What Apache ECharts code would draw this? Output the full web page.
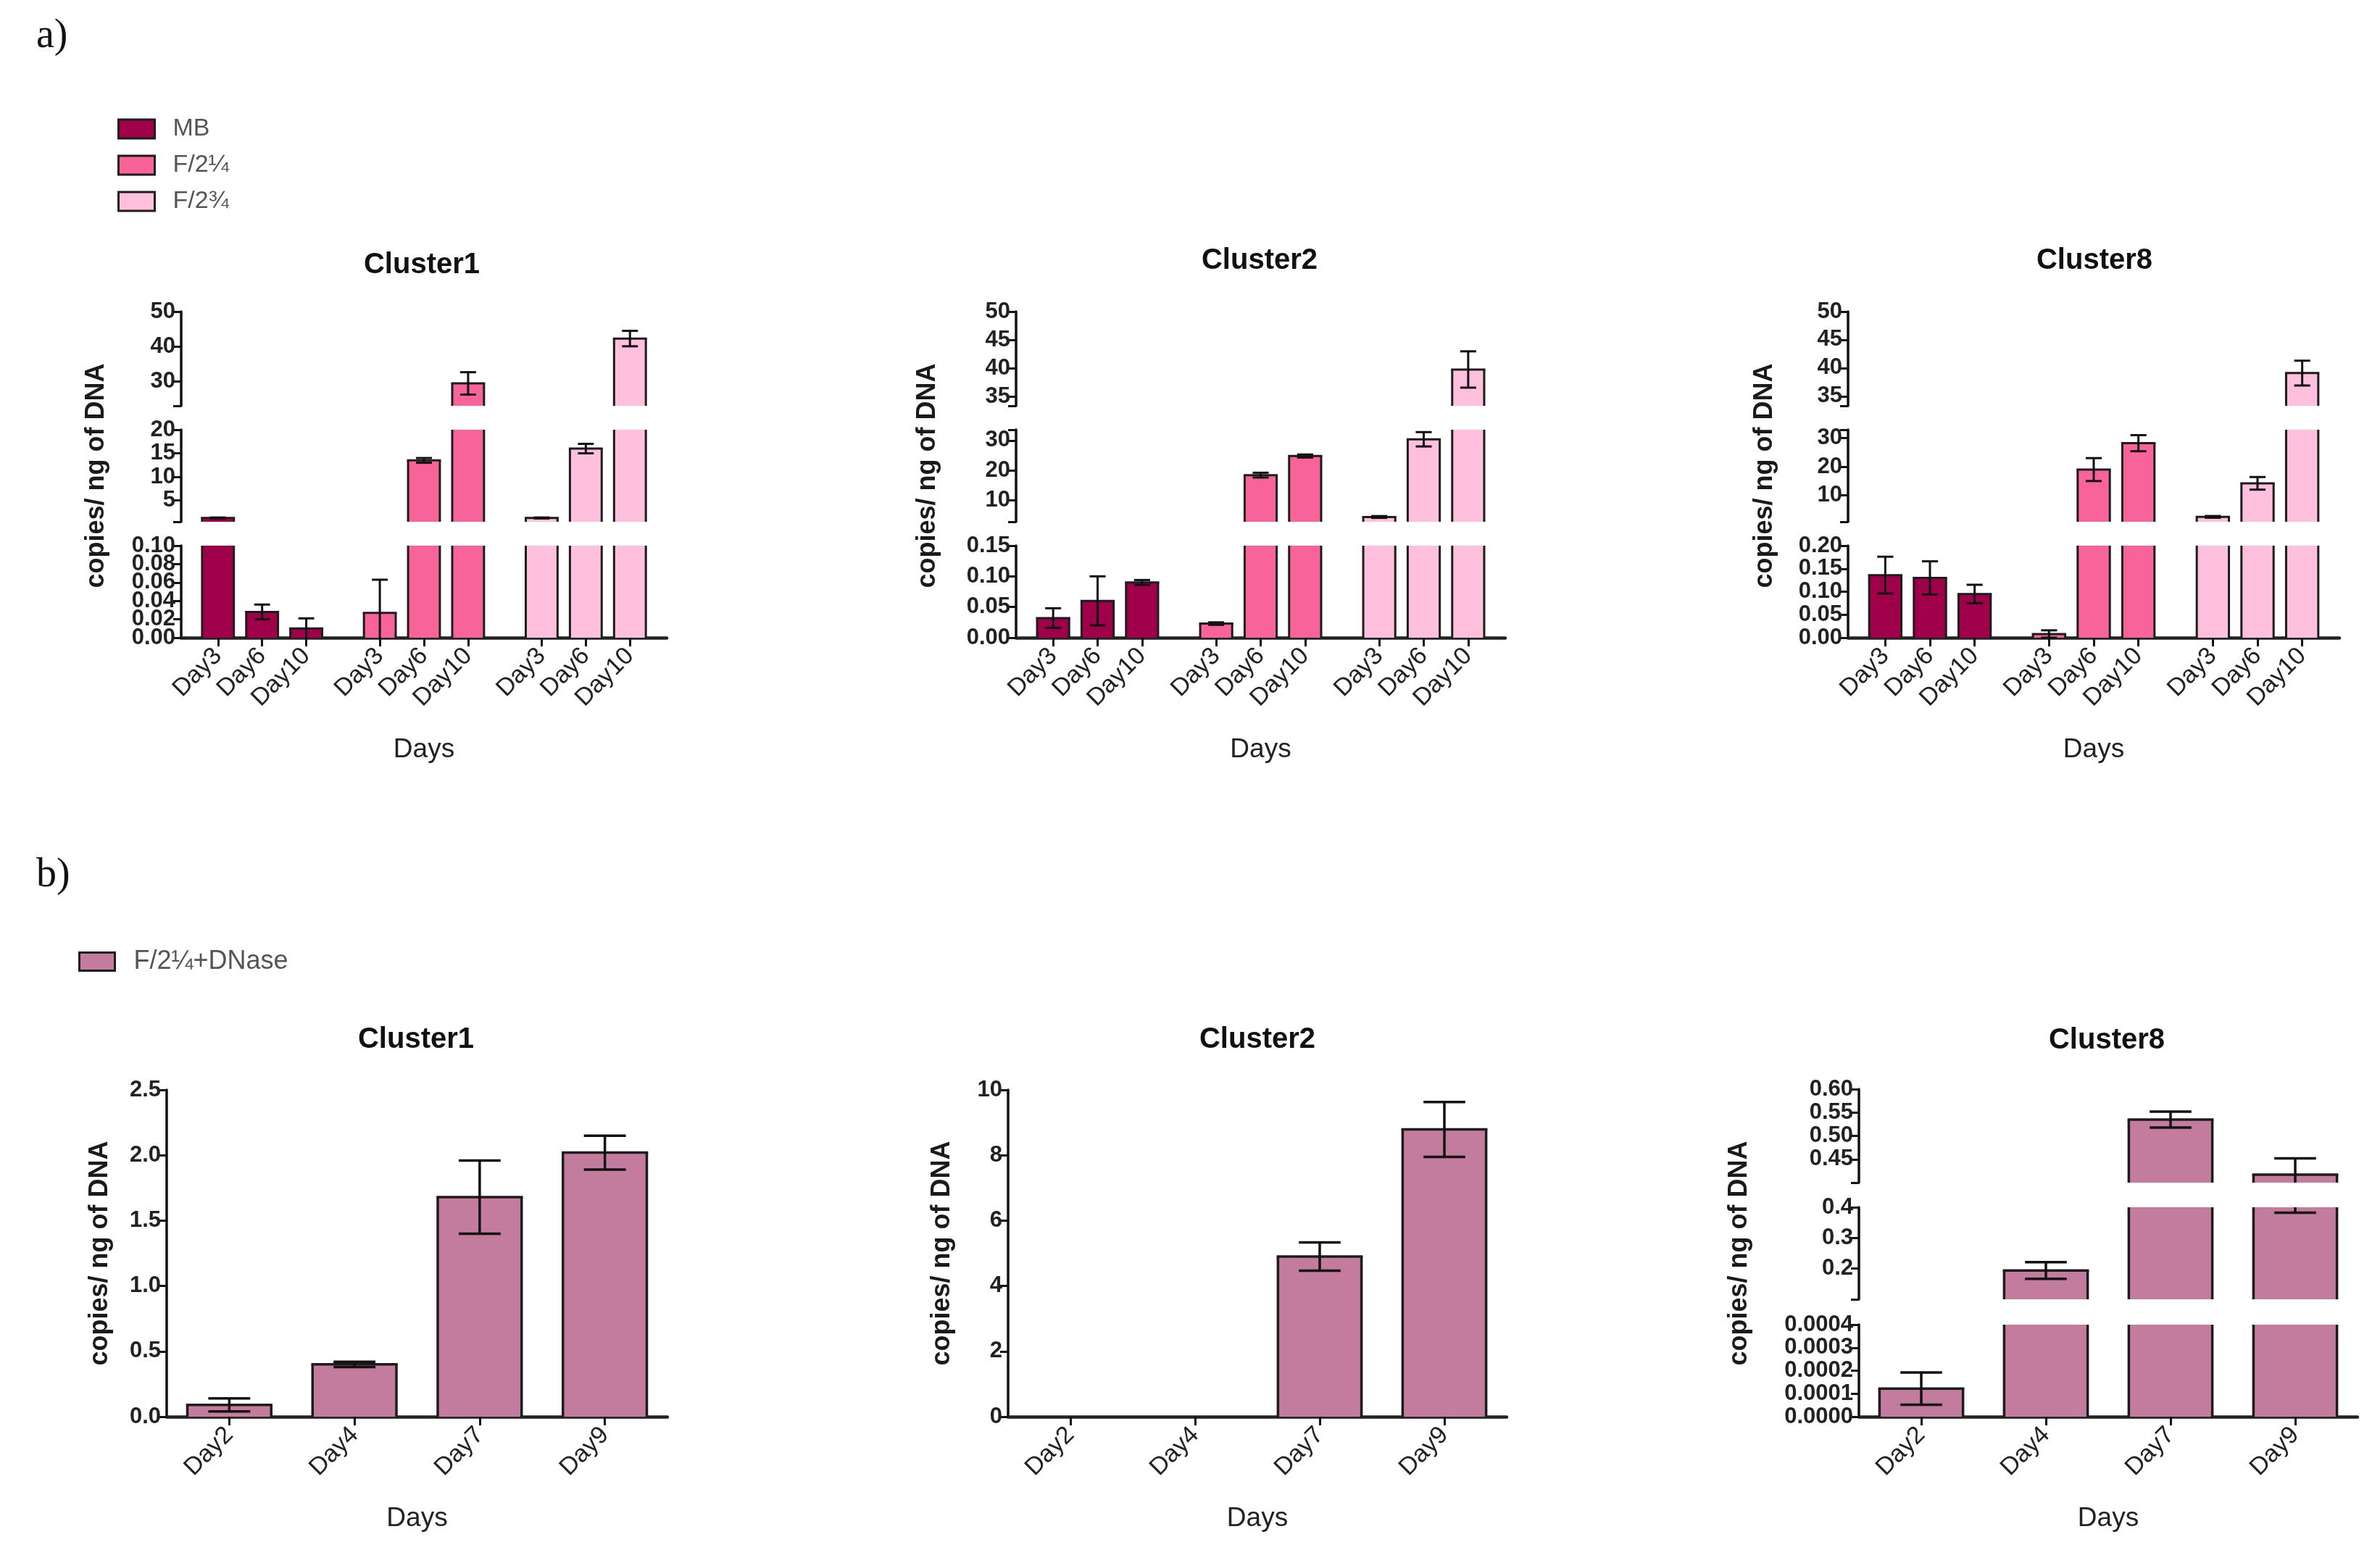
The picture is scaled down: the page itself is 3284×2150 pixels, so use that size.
<!DOCTYPE html>
<html>
<head>
<meta charset="utf-8">
<script src="https://cdn.jsdelivr.net/npm/echarts@6/dist/echarts.min.js"></script>
<style>
  html, body { margin: 0; padding: 0; background: #ffffff; }
  #chart { width: 3284px; height: 2150px; }
</style>
</head>
<body>
<div id="chart"></div>
<script>
// ---------------- DATA ----------------
const groupsA = ['MB', 'F/2¼', 'F/2¾'];
const daysA = ['Day3', 'Day6', 'Day10'];
const daysB = ['Day2', 'Day4', 'Day7', 'Day9'];
const seriesB = 'F/2¼+DNase';
const panelTitles = ['Cluster1', 'Cluster2', 'Cluster8'];

// a) Cluster1
const c1MB = [1.3, 0.028, 0.010];
const c1MBErr = [0.1, 0.008, 0.011];
const c1F14 = [0.027, 13.5, 29.5];
const c1F14Err = [0.036, 0.5, 3.2];
const c1F34 = [1.3, 16.0, 42.3];
const c1F34Err = [0.1, 1.0, 2.2];
// a) Cluster2
const c2MB = [0.032, 0.060, 0.090];
const c2MBErr = [0.016, 0.040, 0.004];
const c2F14 = [0.023, 18.4, 24.8];
const c2F14Err = [0.002, 0.8, 0.5];
const c2F34 = [4.4, 30.4, 39.8];
const c2F34Err = [0.3, 2.4, 3.2];
// a) Cluster8
const c8MB = [0.136, 0.130, 0.095];
const c8MBErr = [0.040, 0.036, 0.020];
const c8F14 = [0.008, 19.0, 28.2];
const c8F14Err = [0.008, 4.0, 2.8];
const c8F34 = [2.5, 14.2, 39.1];
const c8F34Err = [0.3, 2.2, 2.2];
// b) F/2¼+DNase
const bC1 = [0.09, 0.40, 1.68, 2.02];
const bC1Err = [0.05, 0.02, 0.28, 0.13];
const bC2 = [0, 0, 4.9, 8.79];
const bC2Err = [0, 0, 0.43, 0.84];
const bC8 = [0.000122, 0.194, 0.535, 0.417];
const bC8Err = [0.00007, 0.027, 0.017, 0.035];

// axis segments (broken axes): [min, max] top, middle, bottom
const c1Ranges = [[23.1, 50], [0.5, 20], [0, 0.1]];
const c2Ranges = [[33.4, 50], [2.8, 33.6], [0, 0.15]];
const c8Ranges = [[33.3, 50], [0.8, 32.9], [0, 0.2]];
const bC1Range = [0, 2.5];
const bC2Range = [0, 10];
const bC8Ranges = [[0.4, 0.6], [0.1, 0.4], [0, 0.0004]];

// tick labels
const c1Ticks = [[30, 40, 50], [5, 10, 15, 20], [0, 0.02, 0.04, 0.06, 0.08, 0.10]];
const c2Ticks = [[35, 40, 45, 50], [10, 20, 30], [0, 0.05, 0.10, 0.15]];
const c8Ticks = [[35, 40, 45, 50], [10, 20, 30], [0, 0.05, 0.10, 0.15, 0.20]];
const bC1Ticks = [0, 0.5, 1.0, 1.5, 2.0, 2.5];
const bC2Ticks = [0, 2, 4, 6, 8, 10];
const bC8Ticks = [[0.45, 0.50, 0.55, 0.60], [0.2, 0.3, 0.4], [0, 0.0001, 0.0002, 0.0003, 0.0004]];
const c1Digits = [0, 0, 2], c2Digits = [0, 0, 2], c8Digits = [0, 0, 2];
const bC1Digits = 1, bC2Digits = 0, bC8Digits = [2, 1, 4];

// ---------------- STYLE / LAYOUT ----------------
const FONT = '"Liberation Sans", Arial, Helvetica, sans-serif';
const SERIF = '"Liberation Serif", "DejaVu Serif", serif';
const colorsA = ['#A0004A', '#F8649A', '#FFC0DE'];
const colorB = '#C47C9E';
const EDGE = '#1c1c1c';

const A_SEG_Y = [[430, 560], [593, 720], [753, 880]];
const A_LEFT = [250, 1402, 2550];
const A_WIDTH = [670, 675, 678];
const A_SLOTS = 33;
const A_POS = [2, 5, 8, 13, 16, 19, 24, 27, 30];
const A_NAMEGAP = [99, 104, 97];
const A_BARFRAC = 2.16;

const B_LEFT = [230, 1391, 2565];
const B_WIDTH = [691, 688, 688];
const B_Y = [1504, 1955];
const B8_SEG_Y = [[1503, 1632], [1666, 1793], [1828, 1955]];
const B_NAMEGAP = [74, 73, 147];
const B_BARFRAC = 0.67;
const LABEL_PX = 31;

const grids = [], xAxes = [], yAxes = [], series = [];

function clamp(v, a, b) { return Math.max(a, Math.min(b, v)); }

function makeRender(color, frac, lw) {
  return function (params, api) {
    const cs = params.coordSys;
    const xi = api.value(0), v = api.value(1), e = api.value(2);
    const p0 = api.coord([xi, 0]);
    const p1 = api.coord([xi, v]);
    const w = api.size([1, 0])[0] * frac;
    const cx = p1[0];
    const gTop = cs.y, gBot = cs.y + cs.height;
    const children = [];
    let yT = Math.min(p0[1], p1[1]), yB = Math.max(p0[1], p1[1]);
    const topClipped = yT < gTop;
    yT = clamp(yT, gTop, gBot); yB = clamp(yB, gTop, gBot);
    if (yB - yT > 0.01) {
      children.push({ type: 'rect', shape: { x: cx - w / 2, y: yT, width: w, height: yB - yT }, style: { fill: color } });
      children.push({ type: 'line', shape: { x1: cx - w / 2, y1: yT, x2: cx - w / 2, y2: yB }, style: { stroke: EDGE, lineWidth: lw } });
      children.push({ type: 'line', shape: { x1: cx + w / 2, y1: yT, x2: cx + w / 2, y2: yB }, style: { stroke: EDGE, lineWidth: lw } });
      if (!topClipped) {
        children.push({ type: 'line', shape: { x1: cx - w / 2 - lw / 2, y1: yT, x2: cx + w / 2 + lw / 2, y2: yT }, style: { stroke: EDGE, lineWidth: lw } });
      }
    }
    if (e > 0) {
      const hi = api.coord([xi, v + e])[1];
      const lo = api.coord([xi, v - e])[1];
      const a = clamp(hi, gTop, gBot), b = clamp(lo, gTop, gBot);
      const cw = w / 2;
      if (b - a > 0.01) {
        children.push({ type: 'line', shape: { x1: cx, y1: a, x2: cx, y2: b }, style: { stroke: '#111', lineWidth: lw } });
      }
      [hi, lo].forEach(function (yy) {
        if (yy >= gTop - 0.5 && yy <= gBot + 0.5) {
          children.push({ type: 'line', shape: { x1: cx - cw / 2, y1: yy, x2: cx + cw / 2, y2: yy }, style: { stroke: '#111', lineWidth: lw } });
        }
      });
    }
    return { type: 'group', children: children };
  };
}

function labelStyle(ticks, digits) {
  return { customValues: ticks, formatter: function (v) { return Number(v).toFixed(digits); },
    showMinLabel: true, showMaxLabel: true, hideOverlap: false,
    fontSize: LABEL_PX, fontWeight: 'bold', color: '#222', fontFamily: FONT, margin: 8 };
}

// adds the y axis (or two superimposed axes when labels are densely packed); returns main axis index
function addYAxis(gridIndex, range, ticks, digits, name, nameGap, heightPx) {
  const pxPerStep = ticks.length > 1 ? heightPx * (ticks[1] - ticks[0]) / (range[1] - range[0]) : 999;
  const dense = pxPerStep < LABEL_PX;
  const mainTicks = dense ? ticks.filter(function (t, i) { return i % 2 === 0; }) : ticks;
  const ax = {
    type: 'value', gridIndex: gridIndex, min: range[0], max: range[1], position: 'left',
    axisLine: { show: true, lineStyle: { color: '#111', width: 3.5 } },
    axisTick: { show: true, length: 11, lineStyle: { color: '#111', width: 3 },
      customValues: [range[0]].concat(ticks, [range[1]]) },
    axisLabel: labelStyle(mainTicks, digits),
    splitLine: { show: false }
  };
  if (name) {
    ax.name = name; ax.nameLocation = 'middle'; ax.nameGap = nameGap;
    ax.nameTextStyle = { fontSize: 36, fontWeight: 'bold', color: '#1a1a1a', fontFamily: FONT };
  }
  const mainIndex = yAxes.length;
  yAxes.push(ax);
  if (dense) {
    yAxes.push({
      type: 'value', gridIndex: gridIndex, min: range[0], max: range[1], position: 'left', offset: 0,
      axisLine: { show: false }, axisTick: { show: false }, splitLine: { show: false },
      axisLabel: labelStyle(ticks.filter(function (t, i) { return i % 2 === 1; }), digits)
    });
  }
  return mainIndex;
}

function xAxisDef(gridIndex, data, show, nameGap) {
  const notBlank = function (i, v) { return v !== ''; };
  return {
    type: 'category', gridIndex: gridIndex, data: data, boundaryGap: true, show: show,
    axisLine: { show: show, lineStyle: { color: '#222', width: 4.5 } },
    axisTick: { show: show, alignWithLabel: true, interval: notBlank, length: 12, lineStyle: { color: '#111', width: 3 } },
    axisLabel: { show: show, interval: notBlank, rotate: 45, fontSize: 34, color: '#222', fontFamily: FONT, margin: 20 },
    splitLine: { show: false },
    name: show ? 'Days' : '', nameLocation: 'middle', nameGap: nameGap,
    nameTextStyle: { fontSize: 37, color: '#222', fontFamily: FONT }
  };
}

// ---------- a) panels ----------
const aData = [
  { vals: [c1MB, c1F14, c1F34], errs: [c1MBErr, c1F14Err, c1F34Err], ranges: c1Ranges, ticks: c1Ticks, digits: c1Digits },
  { vals: [c2MB, c2F14, c2F34], errs: [c2MBErr, c2F14Err, c2F34Err], ranges: c2Ranges, ticks: c2Ticks, digits: c2Digits },
  { vals: [c8MB, c8F14, c8F34], errs: [c8MBErr, c8F14Err, c8F34Err], ranges: c8Ranges, ticks: c8Ticks, digits: c8Digits }
];
const aAxisData = new Array(A_SLOTS).fill('');
A_POS.forEach(function (p, k) { aAxisData[p] = daysA[k % daysA.length]; });

aData.forEach(function (pd, pi) {
  for (let s = 0; s < 3; s++) {
    const gi = grids.length;
    const h = A_SEG_Y[s][1] - A_SEG_Y[s][0];
    grids.push({ left: A_LEFT[pi], width: A_WIDTH[pi], top: A_SEG_Y[s][0], height: h, containLabel: false });
    xAxes.push(xAxisDef(gi, aAxisData, s === 2, 136));
    const yi = addYAxis(gi, pd.ranges[s], pd.ticks[s], pd.digits[s], s === 1 ? 'copies/ ng of DNA' : '', A_NAMEGAP[pi], h);
    groupsA.forEach(function (g, k) {
      series.push({
        type: 'custom', name: g, xAxisIndex: gi, yAxisIndex: yi,
        itemStyle: { color: colorsA[k], borderColor: EDGE, borderWidth: 3 },
        renderItem: makeRender(colorsA[k], A_BARFRAC, 3),
        data: pd.vals[k].map(function (v, i) { return [A_POS[k * 3 + i], v, pd.errs[k][i]]; })
      });
    });
  }
});

// ---------- b) panels ----------
function addBPanel(pi, top, bottom, range, ticks, digits, showX, name, vals, errs) {
  const gi = grids.length;
  grids.push({ left: B_LEFT[pi], width: B_WIDTH[pi], top: top, height: bottom - top, containLabel: false });
  xAxes.push(xAxisDef(gi, daysB, showX, 122));
  const yi = addYAxis(gi, range, ticks, digits, name, B_NAMEGAP[pi], bottom - top);
  series.push({
    type: 'custom', name: seriesB, xAxisIndex: gi, yAxisIndex: yi,
    itemStyle: { color: colorB, borderColor: EDGE, borderWidth: 3 },
    renderItem: makeRender(colorB, B_BARFRAC, 3.5),
    data: vals.map(function (v, i) { return [i, v, errs[i]]; })
  });
}
addBPanel(0, B_Y[0], B_Y[1], bC1Range, bC1Ticks, bC1Digits, true, 'copies/ ng of DNA', bC1, bC1Err);
addBPanel(1, B_Y[0], B_Y[1], bC2Range, bC2Ticks, bC2Digits, true, 'copies/ ng of DNA', bC2, bC2Err);
for (let s = 0; s < 3; s++) {
  addBPanel(2, B8_SEG_Y[s][0], B8_SEG_Y[s][1], bC8Ranges[s], bC8Ticks[s], bC8Digits[s], s === 2,
    s === 1 ? 'copies/ ng of DNA' : '', bC8, bC8Err);
}

// ---------- texts ----------
function txt(text, x, y, size, weight, align, family, color) {
  return { type: 'text', x: x, y: y, silent: true,
    style: { text: text, fontSize: size, fontWeight: weight, fontFamily: family || FONT, fill: color || '#111',
      align: align, textAlign: align, verticalAlign: 'middle', textVerticalAlign: 'middle' } };
}
const titlePosA = [[582, 366], [1738, 360], [2890, 360]];
const titlePosB = [[574, 1435], [1735, 1435], [2907, 1436]];
const graphics = [
  txt('a)', 50, 50, 56, 'normal', 'left', SERIF, '#111'),
  txt('b)', 50, 1208, 56, 'normal', 'left', SERIF, '#111')
];
panelTitles.forEach(function (t, i) {
  graphics.push(txt(t, titlePosA[i][0], titlePosA[i][1], 40, 'bold', 'center'));
  graphics.push(txt(t, titlePosB[i][0], titlePosB[i][1], 40, 'bold', 'center'));
});

const option = {
  backgroundColor: '#ffffff',
  animation: false,
  grid: grids,
  xAxis: xAxes,
  yAxis: yAxes,
  series: series,
  legend: [
    {
      orient: 'vertical', left: 162, top: 161, padding: 0, itemWidth: 50, itemHeight: 26, itemGap: 16,
      icon: 'rect', selectedMode: false,
      data: groupsA.map(function (n, i) { return { name: n, itemStyle: { color: colorsA[i], borderColor: EDGE, borderWidth: 3 } }; }),
      textStyle: { fontSize: 34, color: '#555', fontFamily: FONT, lineHeight: 26, padding: [0, 0, 0, 20] }
    },
    {
      orient: 'vertical', left: 108, top: 1309, padding: 0, itemWidth: 49, itemHeight: 25,
      icon: 'rect', selectedMode: false,
      data: [{ name: seriesB, itemStyle: { color: colorB, borderColor: EDGE, borderWidth: 3 } }],
      textStyle: { fontSize: 36, color: '#555', fontFamily: FONT, lineHeight: 25, padding: [0, 0, 0, 21] }
    }
  ],
  graphic: graphics
};

const chart = echarts.init(document.getElementById('chart'), null, { renderer: 'canvas' });
chart.setOption(option);
</script>
</body>
</html>
